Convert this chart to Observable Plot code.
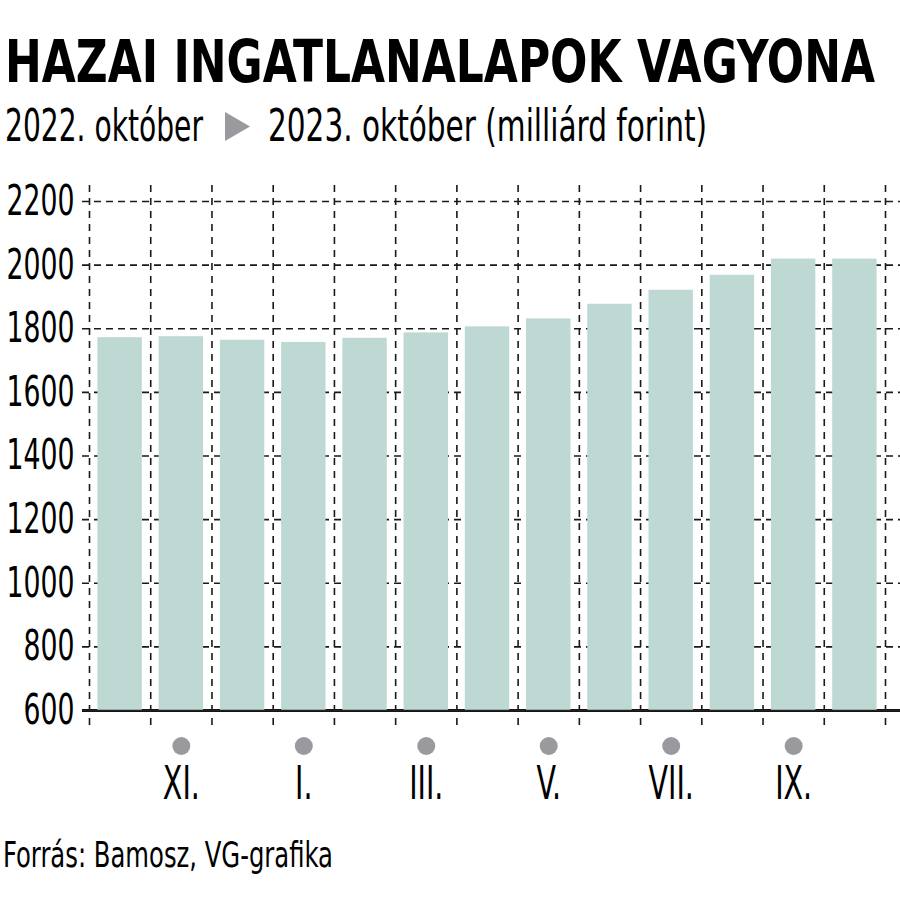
<!DOCTYPE html>
<html><head><meta charset="utf-8">
<script src="https://cdn.jsdelivr.net/npm/d3@7"></script>
<script src="https://cdn.jsdelivr.net/npm/@observablehq/plot@0.6"></script>
<style>
body{margin:0;background:#fff;}
#wrap{position:relative;width:900px;height:900px;overflow:hidden;font-family:'Liberation Sans Narrow','DejaVu Sans Condensed','Liberation Sans',sans-serif;color:#000;}
.t{position:absolute;white-space:nowrap;line-height:1;transform-origin:0 0;}
#title{left:5px;top:33px;font-size:58px;font-weight:bold;}
#sub1{left:5px;top:104px;font-size:44px;}
#sub2{left:268px;top:104px;font-size:44px;}
#tri{position:absolute;left:225px;top:112px;}
#chart{position:absolute;left:0;top:170px;}
#caption{left:3px;top:838px;font-size:35px;}
</style></head><body>
<div id="wrap">
 <div class="t" id="title">HAZAI INGATLANALAPOK VAGYONA</div>
 <div class="t" id="sub1">2022. október</div>
 <svg id="tri" width="25" height="29"><polygon points="0,0 25,14.5 0,29" fill="#9a9a9e"/></svg>
 <div class="t" id="sub2">2023. október (milliárd forint)</div>
 <div id="chart"></div>
 <div class="t" id="caption">Forrás: Bamosz, VG-grafika</div>
</div>
<script>
// Data
const months = ["X.","XI.","XII.","I.","II.","III.","IV.","V.","VI.","VII.","VIII.","IX.","X."];
const values = [1772,1775,1764,1757,1770,1787,1806,1831,1877,1921,1968,2019,2019];
const yTicks = [600,800,1000,1200,1400,1600,1800,2000,2200];
const labeledMonths = ["XI.","I.","III.","V.","VII.","IX."];

const barColor = "#bed9d3";
const dotColor = "#9a9a9e";
const font = "'Liberation Sans Narrow','DejaVu Sans Condensed','Liberation Sans',sans-serif";

const data = months.map((m, i) => ({m, i, v: values[i]}));
const labeled = data.filter((d, i) => i % 2 === 1 && labeledMonths.includes(d.m));
const yMin = yTicks[0], yMax = yTicks[yTicks.length - 1];

const plot = Plot.plot({
  width: 900, height: 660,
  marginTop: 31, marginBottom: 120, marginLeft: 89, marginRight: 15,
  style: {fontFamily: font, fontSize: "42px", color: "#000", background: "transparent", overflow: "visible"},
  x: {domain: [0, months.length], axis: null},
  y: {domain: [yMin, yMax]},
  marks: [
    Plot.ruleY(yTicks.slice(1), {stroke: "#1a1a1a", strokeWidth: 1.6, strokeDasharray: "7,5", insetLeft: -7, insetRight: -15}),
    Plot.ruleY([yMin], {stroke: "#111", strokeWidth: 3, insetLeft: -7, insetRight: -15}),
    Plot.ruleX(d3.range(months.length + 1), {stroke: "#1a1a1a", strokeWidth: 1.6, strokeDasharray: "7,6", insetTop: -16, insetBottom: -20}),
    Plot.rect(data, {x1: "i", x2: d => d.i + 1, y1: () => yMin, y2: "v", fill: barColor, insetLeft: 8.4, insetRight: 8.4}),
    Plot.ruleY([yMin], {stroke: "#222", strokeWidth: 1.5, insetLeft: -7, insetRight: -15}),
    Plot.axisY(yTicks, {tickSize: 0, tickPadding: 15, fontSize: 42, label: null, tickFormat: d => `${d}`, className: "yax"}),
    Plot.dot(labeled, {x: d => d.i + 0.5, frameAnchor: "bottom", dy: 35.5, r: 9, fill: dotColor}),
    Plot.text(labeled, {x: d => d.i + 0.5, text: "m", frameAnchor: "bottom", dy: 88, fontSize: 46, className: "xlab"})
  ]
});
document.getElementById("chart").appendChild(plot);

function fitHtml(id, w) {
  const el = document.getElementById(id);
  const r = el.getBoundingClientRect().width;
  el.style.transform = `scaleX(${w / r})`;
}
fitHtml("title", 870);
fitHtml("sub1", 198);
fitHtml("sub2", 439);
fitHtml("caption", 330);

function condense(selector, refText, targetW) {
  const texts = Array.from(plot.querySelectorAll(selector + " text"));
  const ref = texts.find(t => t.textContent === refText);
  if (!ref) return;
  const s = targetW / ref.getBBox().width;
  texts.forEach(t => {
    const b = t.getBBox();
    const anchor = getComputedStyle(t).textAnchor || t.getAttribute("text-anchor");
    const ax = anchor === "end" ? b.x + b.width : anchor === "start" ? b.x : b.x + b.width / 2;
    const tr = t.getAttribute("transform") || "";
    t.setAttribute("transform", `${tr} translate(${ax},0) scale(${s},1) translate(${-ax},0)`);
  });
}
condense(".yax", "2200", 68);
condense(".xlab", "XI.", 37);
</script>
</body></html>
